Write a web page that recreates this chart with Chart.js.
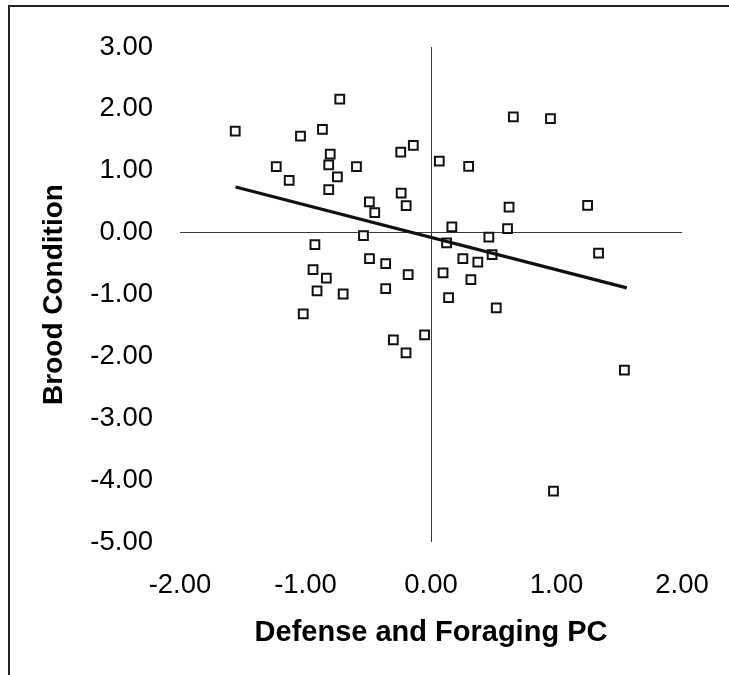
<!DOCTYPE html>
<html>
<head>
<meta charset="utf-8">
<title>Brood Condition</title>
<script src="https://cdn.jsdelivr.net/npm/chart.js@4.4.1/dist/chart.umd.min.js"></script>
<style>
  body { margin: 0; background: #fff; }
  #wrap { position: relative; width: 729px; height: 675px; overflow: hidden; }
  #cadre {
    position: absolute; left: 8px; top: 5px; right: -10px; bottom: -10px;
    border-top: 2px solid #222; border-left: 2px solid #222;
    pointer-events: none;
  }
  canvas { position: absolute; left: 0; top: 0; }
</style>
</head>
<body>
<div id="wrap">
  <canvas id="broodChart" width="729" height="675"></canvas>
  <div id="cadre"></div>
</div>
<script>
// valeurs des colonies (PC défense/fourragement vs condition du couvain)
const pcDefense = [
  -1.56, -1.04, -0.865, -0.727, -1.233, -1.13, -0.803, -0.815, -0.746, -0.815,
  -0.594, -0.241, -0.141, -0.238, -0.198, -0.491, -0.448, -0.538, -0.925, -0.94,
  -0.834, -0.908, -0.70, -1.018, -0.49, -0.361, -0.361, -0.182, -0.30, -0.199,
  -0.051, 0.066, 0.30, 0.656, 0.952, 0.622, 1.248, 0.166, 0.61, 0.461,
  0.124, 0.487, 0.254, 0.373, 0.096, 0.318, 0.14, 0.52, 1.335, 1.541,
  0.976
];
const conditionCouvain = [
  1.64, 1.56, 1.67, 2.156, 1.068, 0.845, 1.27, 1.095, 0.90, 0.695,
  1.068, 1.30, 1.41, 0.64, 0.436, 0.498, 0.324, -0.047, -0.194, -0.597,
  -0.736, -0.943, -0.992, -1.313, -0.42, -0.50, -0.904, -0.678, -1.733, -1.942,
  -1.654, 1.156, 1.07, 1.87, 1.843, 0.412, 0.442, 0.093, 0.066, -0.074,
  -0.165, -0.354, -0.42, -0.476, -0.649, -0.761, -1.05, -1.216, -0.33, -2.222,
  -4.178
];

// extrémités de la droite de régression
const droiteX = [-1.557, 1.560];
const droiteY = [0.737, -0.893];

const ticksX = [-2, -1, 0, 1, 2];
const ticksY = [3, 2, 1, 0, -1, -2, -3, -4, -5];

const police = "'Liberation Sans', Arial, sans-serif";

function versPoints(xs, ys) {
  return xs.map((x, i) => ({ x: x, y: ys[i] }));
}

// seules les lignes du zéro sont tracées
function couleurGrille(ctx) {
  return ctx.tick && ctx.tick.value === 0 ? '#3a3a3a' : 'rgba(0,0,0,0)';
}

function afficherGraphique() {
  const ctx = document.getElementById('broodChart').getContext('2d');
  new Chart(ctx, {
    type: 'scatter',
    data: {
      datasets: [
        {
          label: 'Régression',
          data: versPoints(droiteX, droiteY),
          showLine: true,
          borderColor: '#111',
          borderWidth: 3.2,
          pointRadius: 0,
          fill: false,
          order: 0
        },
        {
          label: 'Colonies',
          data: versPoints(pcDefense, conditionCouvain),
          pointStyle: 'rect',
          pointRadius: 6.2,
          borderWidth: 2,
          borderColor: '#111',
          backgroundColor: '#fff',
          order: 1
        }
      ]
    },
    options: {
      responsive: false,
      animation: false,
      layout: { padding: { left: 0, right: 47, top: 47, bottom: 0 } },
      plugins: {
        legend: { display: false },
        tooltip: { enabled: false }
      },
      scales: {
        x: {
          type: 'linear',
          min: -2,
          max: 2,
          afterBuildTicks: scale => { scale.ticks = ticksX.map(v => ({ value: v })); },
          afterFit: scale => {
            scale.height = 133;
            // les étiquettes débordent dans la marge, pas dans la zone du graphe
            scale.paddingLeft = 0;
            scale.paddingRight = 0;
          },
          border: { display: false },
          grid: { color: couleurGrille, lineWidth: 1, drawTicks: false },
          ticks: {
            padding: 27,
            color: '#000',
            font: { family: police, size: 27.5 },
            callback: v => v.toFixed(2)
          },
          title: {
            display: true,
            text: 'Defense and Foraging PC',
            color: '#000',
            font: { family: police, size: 29, weight: 'bold', lineHeight: 1.2 },
            padding: { top: 0, bottom: 25 }
          }
        },
        y: {
          type: 'linear',
          min: -5,
          max: 3,
          afterBuildTicks: scale => { scale.ticks = ticksY.map(v => ({ value: v })); },
          afterFit: scale => { scale.width = 180; },
          border: { display: false },
          grid: { color: couleurGrille, lineWidth: 1, drawTicks: false },
          ticks: {
            padding: 27,
            color: '#000',
            font: { family: police, size: 27.5 },
            callback: v => v.toFixed(2)
          },
          title: {
            display: true,
            text: 'Brood Condition',
            color: '#000',
            font: { family: police, size: 28, weight: 'bold', lineHeight: 1.2 },
            padding: { top: 37, bottom: 0 }
          }
        }
      }
    }
  });
}

afficherGraphique();
</script>
</body>
</html>
